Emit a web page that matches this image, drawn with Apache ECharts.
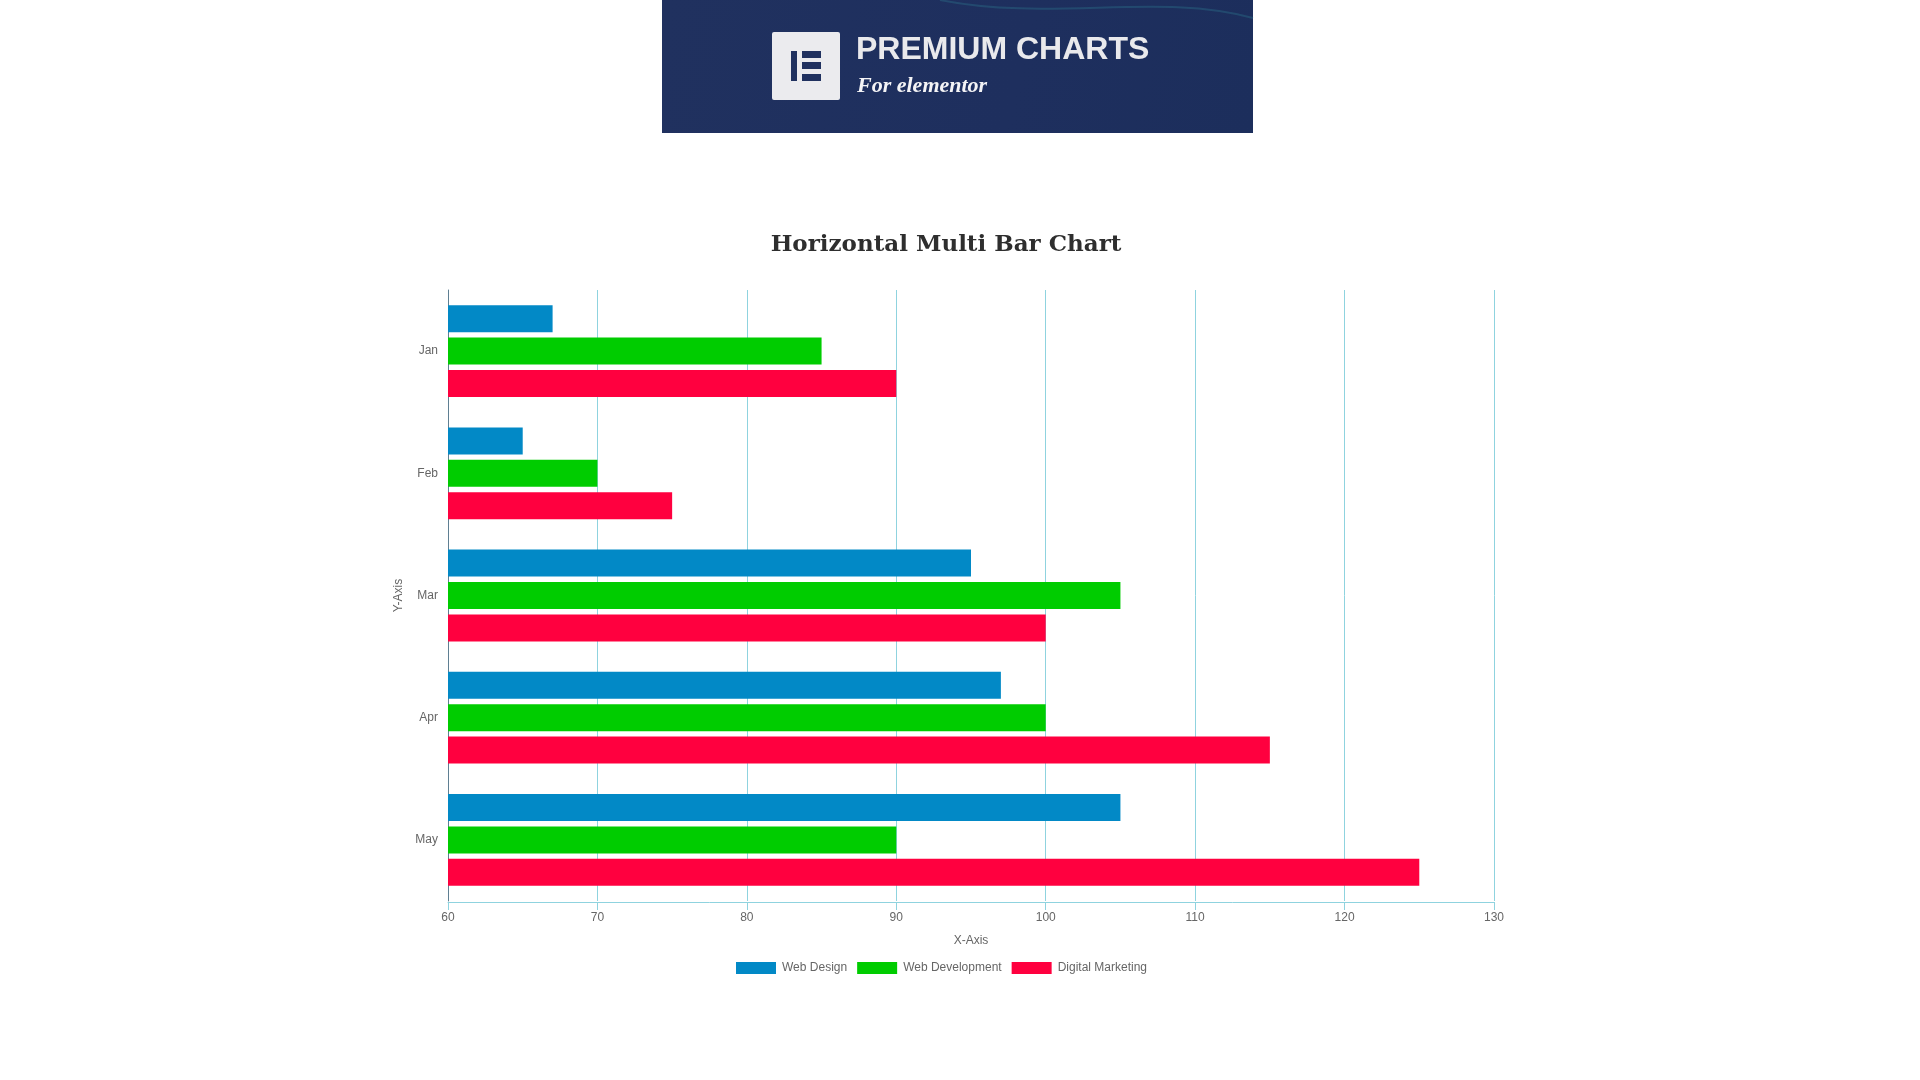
<!DOCTYPE html>
<html>
<head>
<meta charset="utf-8">
<title>Horizontal Multi Bar Chart</title>
<script src="https://cdn.jsdelivr.net/npm/echarts@6/dist/echarts.min.js"></script>
<style>
  html, body { margin: 0; padding: 0; background: #fff; }
  #chart { width: 1920px; height: 1080px; }
</style>
</head>
<body>
<div id="chart"></div>
<script>
const months = ["Jan", "Feb", "Mar", "Apr", "May"];
const webDesign = [67, 65, 95, 97, 105];
const webDevelopment = [85, 70, 105, 100, 90];
const digitalMarketing = [90, 75, 100, 115, 125];
const seriesNames = ["Web Design", "Web Development", "Digital Marketing"];
const seriesColors = ["#0289c6", "#00cc00", "#ff003f"];

const gridColor = "#8fd3df";
const labelColor = "#666666";
const sansFont = "Liberation Sans";

const chart = echarts.init(document.getElementById("chart"));

function makeSeries(name, values, color) {
  return {
    name: name,
    type: "bar",
    data: values,
    barWidth: 27,
    barGap: "20%",
    itemStyle: { color: color },
    animation: false
  };
}

chart.setOption({
  animation: false,
  title: {
    text: "Horizontal Multi Bar Chart",
    left: 941,
    top: 229,
    textAlign: "center",
    textStyle: { fontFamily: "DejaVu Serif", fontSize: 23, fontWeight: "bold", color: "#2e2e2e" }
  },
  legend: {
    data: seriesNames,
    left: 731,
    top: 957,
    icon: "rect",
    itemWidth: 40,
    itemHeight: 12,
    itemGap: 10,
    textStyle: { fontFamily: sansFont, fontSize: 12, color: labelColor, padding: [0, 0, 0, 1] }
  },
  grid: { left: 448, top: 290, width: 1046, height: 611 },
  xAxis: {
    type: "value",
    min: 60,
    max: 130,
    interval: 10,
    offset: 1,
    name: "X-Axis",
    nameLocation: "middle",
    nameGap: 33,
    nameTextStyle: { fontFamily: sansFont, fontSize: 12, color: labelColor },
    axisLine: { show: true, lineStyle: { color: gridColor } },
    axisTick: { show: true, length: 8, lineStyle: { color: gridColor } },
    axisLabel: { fontFamily: sansFont, fontSize: 12, color: labelColor, margin: 10 },
    splitLine: { show: true, lineStyle: { color: gridColor, width: 1 } }
  },
  yAxis: {
    type: "category",
    data: months,
    inverse: true,
    name: "Y-Axis",
    nameLocation: "middle",
    nameGap: 43,
    nameTextStyle: { fontFamily: sansFont, fontSize: 12, color: labelColor },
    axisLine: { show: true, lineStyle: { color: "#5f7f92" } },
    axisTick: { show: false },
    axisLabel: { fontFamily: sansFont, fontSize: 12, color: labelColor, margin: 10 }
  },
  series: [
    makeSeries(seriesNames[0], webDesign, seriesColors[0]),
    makeSeries(seriesNames[1], webDevelopment, seriesColors[1]),
    makeSeries(seriesNames[2], digitalMarketing, seriesColors[2])
  ],
  // banner at the top of the page
  graphic: [
    {
      type: "rect",
      shape: { x: 662, y: 0, width: 591, height: 133 },
      style: {
        fill: new echarts.graphic.LinearGradient(0, 0, 1, 1, [
          { offset: 0, color: "#20315f" },
          { offset: 0.6, color: "#1e2f5e" },
          { offset: 1, color: "#1c2e5c" }
        ])
      }
    },
    // faint wave in the banner's corner
    {
      type: "bezierCurve",
      shape: { x1: 940, y1: 0, cpx1: 1050, cpy1: 22, cpx2: 1160, cpy2: -8, x2: 1253, y2: 18 },
      style: { stroke: "#2a6a86", opacity: 0.45, lineWidth: 2, fill: null }
    },
    { type: "rect", shape: { x: 772, y: 32, width: 68, height: 68, r: 2 }, style: { fill: "#ebebee" } },
    { type: "rect", shape: { x: 791, y: 51, width: 6, height: 30 }, style: { fill: "#20315f" } },
    { type: "rect", shape: { x: 802, y: 51, width: 19, height: 7 }, style: { fill: "#20315f" } },
    { type: "rect", shape: { x: 802, y: 62, width: 19, height: 7 }, style: { fill: "#20315f" } },
    { type: "rect", shape: { x: 802, y: 74, width: 19, height: 7 }, style: { fill: "#20315f" } },
    {
      type: "text",
      style: { x: 856, y: 34, text: "PREMIUM CHARTS", fill: "#e9e9ec", font: "bold 32px 'Liberation Sans'" }
    },
    {
      type: "text",
      style: { x: 857, y: 75, text: "For elementor", fill: "#f4f4f6", font: "italic bold 22px 'Liberation Serif'" }
    }
  ]
});
</script>
</body>
</html>
